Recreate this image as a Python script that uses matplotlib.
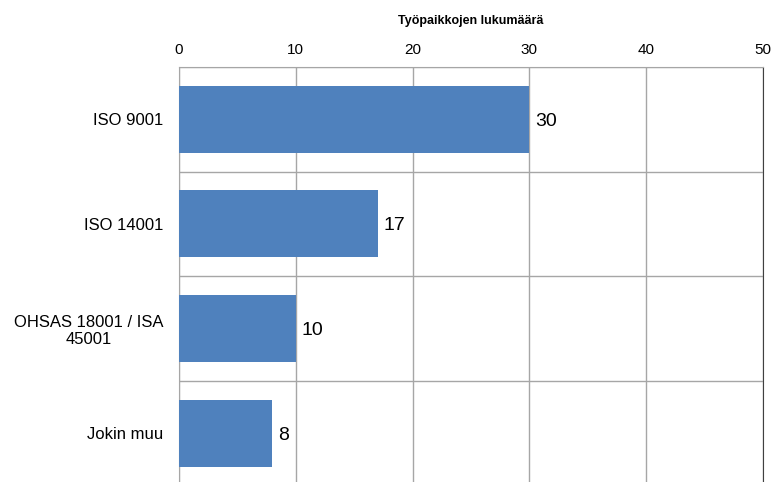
import numpy as np
import matplotlib
matplotlib.use("Agg")
import matplotlib.pyplot as plt

plt.rcParams['font.family'] = ['Liberation Sans', 'DejaVu Sans']

categories = ["ISO 9001", "ISO 14001", "OHSAS 18001 / ISA\n45001", "Jokin muu"]
values = [30, 17, 10, 8]
xticks = [0, 10, 20, 30, 40, 50]
xlabel = "Työpaikkojen lukumäärä"

fig = plt.figure(figsize=(7.71, 4.82), dpi=100)
ax = fig.add_axes([179 / 771, -0.007, (763 - 179) / 771, 0.868])

y = np.arange(len(categories))
ax.barh(y, values, height=0.64, color="#4F81BD", zorder=3)
for yi, v in zip(y, values):
    ax.text(v + 0.5, yi + 0.02, str(v), va="center", ha="left", fontsize=14, color="black")

ax.set_xlim(0, 50)
ax.set_ylim(len(categories) - 0.5, -0.5)
ax.set_yticks(y)
ax.set_yticklabels(categories, fontsize=12, ha="right", multialignment="center")
ax.tick_params(axis="y", length=0, pad=11)
ax.set_yticks(np.arange(len(categories) + 1) - 0.5, minor=True)
ax.tick_params(axis="y", which="minor", length=0)

ax.xaxis.tick_top()
ax.set_xticks(xticks)
ax.set_xticklabels([str(t) for t in xticks], fontsize=11)
ax.tick_params(axis="x", length=0, pad=7.5)
ax.xaxis.set_label_position("top")
ax.set_xlabel(xlabel, fontsize=9, fontweight="bold", labelpad=13.5)

ax.grid(axis="x", color="#A6A6A6", linewidth=1, zorder=0)
ax.grid(axis="y", which="minor", color="#A6A6A6", linewidth=1, zorder=0)
ax.grid(axis="y", which="major", visible=False)

for side in ["top", "left"]:
    ax.spines[side].set_color("#A6A6A6")
ax.spines["right"].set_color("#404040")
ax.spines["bottom"].set_visible(False)

fig.savefig("out.png", dpi=100)
